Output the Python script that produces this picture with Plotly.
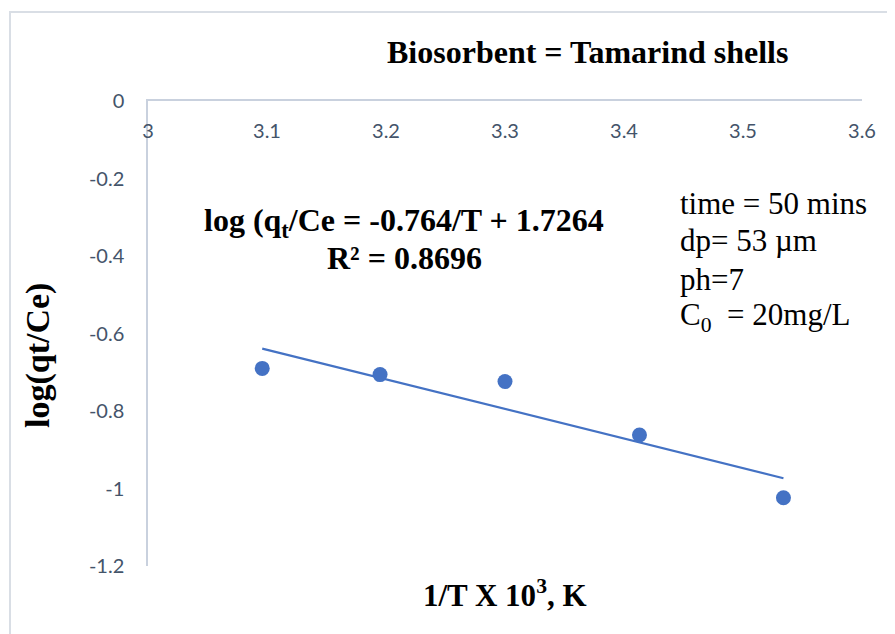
import plotly.graph_objects as go

# ---- data ----
inv_T = [3.096, 3.195, 3.300, 3.413, 3.534]          # 1/T x 10^3
log_qt_ce = [-0.690, -0.706, -0.724, -0.862, -1.024]   # log(qt/Ce)
fit_slope = -0.764
fit_intercept = 1.7264
x_ticks = [3, 3.1, 3.2, 3.3, 3.4, 3.5, 3.6]
x_tick_text = ["3", "3.1", "3.2", "3.3", "3.4", "3.5", "3.6"]
y_ticks = [0, -0.2, -0.4, -0.6, -0.8, -1.0, -1.2]
y_tick_text = ["0", "-0.2", "-0.4", "-0.6", "-0.8", "-1", "-1.2"]
info_lines = ["time = 50 mins", "dp= 53 µm", "ph=7", "C<sub>0</sub>  = 20mg/L"]
eq_lines = ["log (q<sub>t</sub>/Ce = -0.764/T + 1.7264", "R² = 0.8696"]

W, H = 895, 634
OFF = 8  # page body margin
L, R, T, B = 148 - OFF, 862 - OFF, 101 - OFF, 566 - OFF


def px(x, y):
    x -= OFF
    y -= OFF
    return (x - L) / (R - L), (B - y) / (B - T)


blue = "#4472C4"
tick_col = "#44546A"
axis_col = "#C9D1DE"
serif = "Liberation Serif, Times New Roman, serif"

fit_x = [min(inv_T), max(inv_T)]
fit_y = [fit_slope * v + fit_intercept for v in fit_x]

fig = go.Figure()
fig.add_trace(go.Scatter(x=fit_x, y=fit_y, mode="lines",
                         line=dict(color=blue, width=2.2), showlegend=False,
                         hoverinfo="skip"))
fig.add_trace(go.Scatter(x=inv_T, y=log_qt_ce, mode="markers",
                         marker=dict(color=blue, size=15), showlegend=False))

fig.update_layout(
    width=W, height=H,
    margin=dict(l=L, r=W - R, t=T, b=H - B),
    paper_bgcolor="white", plot_bgcolor="white",
    xaxis=dict(range=[3, 3.6], side="top", tickvals=x_ticks, ticktext=x_tick_text,
               showgrid=False, zeroline=False, showline=True, linecolor=axis_col,
               linewidth=1.5, ticks="", ticklabelposition="inside",
               ticklabeloverflow="allow", ticklabelstandoff=24,
               tickfont=dict(family="Lato", size=20, color=tick_col)),
    yaxis=dict(range=[-1.2, 0], tickvals=y_ticks, ticktext=y_tick_text,
               showgrid=False, zeroline=False, showline=True, linecolor=axis_col,
               linewidth=1.5, ticks="", ticklabelstandoff=18,
               tickfont=dict(family="Lato", size=20, color=tick_col)),
)

# chart border
x0, y0 = px(10, 650)
x1, y1 = px(915, 12)
fig.add_shape(type="rect", xref="paper", yref="paper", x0=x0, y0=y0, x1=x1, y1=y1,
              line=dict(color="#D9DEE5", width=2), layer="below")

ann = []
ax, ay = px(587, 52)
ann.append(dict(x=ax, y=ay, text="<b>Biosorbent = Tamarind shells</b>",
                font=dict(family=serif, size=32, color="black"), xanchor="center", yanchor="middle"))
ax, ay = px(505, 593)
ann.append(dict(x=ax, y=ay, text="<b>1/T X 10<sup>3</sup>, K</b>",
                font=dict(family=serif, size=31, color="black"), xanchor="center", yanchor="middle"))
ax, ay = px(38, 356)
ann.append(dict(x=ax, y=ay, text="<b>log(qt/Ce)</b>", textangle=-90,
                font=dict(family=serif, size=34, color="black"), xanchor="center", yanchor="middle"))
for i, line in enumerate(eq_lines):
    ax, ay = px(404, 222 + 36 * i)
    ann.append(dict(x=ax, y=ay, text="<b>" + line + "</b>",
                    font=dict(family=serif, size=32, color="black"),
                    xanchor="center", yanchor="middle"))
for i, line in enumerate(info_lines):
    ax, ay = px(678, 203 + 38 * i)
    ann.append(dict(x=ax, y=ay, text=line,
                    font=dict(family=serif, size=31, color="black"),
                    xanchor="left", yanchor="middle"))
for a in ann:
    a.update(xref="paper", yref="paper", showarrow=False)
fig.update_layout(annotations=ann)

fig.write_html("out.html")
